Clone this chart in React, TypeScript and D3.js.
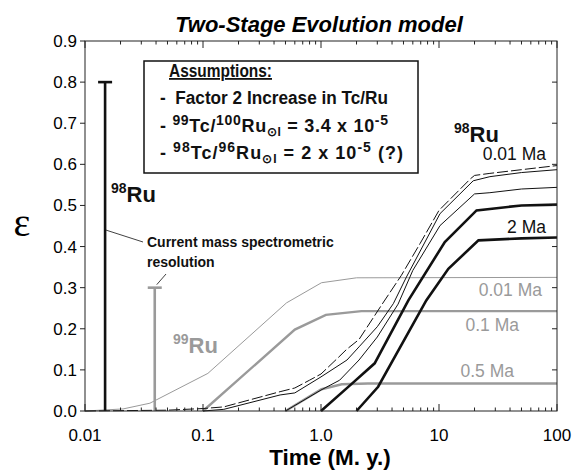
import * as d3 from 'd3';
import React from 'react';

// time axis (M. y.) and epsilon values
const ru98A_t = [0.01, 0.05, 0.1, 0.15, 0.45, 0.6, 0.8, 1.0, 1.4, 1.65, 2.1, 3.3, 4.8, 6.9, 10, 18.5, 20, 27, 50, 100];
const ru98A_v = [0, 0.002, 0.006, 0.01, 0.047, 0.056, 0.075, 0.09, 0.13, 0.15, 0.174, 0.26, 0.33, 0.407, 0.488, 0.565, 0.573, 0.578, 0.587, 0.597];

const ru98B_t = [0.1, 0.15, 0.45, 0.6, 1.0, 1.66, 2.1, 3.0, 4.1, 5.3, 10.2, 19.5, 27, 50, 100];
const ru98B_v = [0, 0.004, 0.039, 0.044, 0.083, 0.124, 0.156, 0.205, 0.261, 0.326, 0.48, 0.56, 0.57, 0.58, 0.587];

const ru98C_t = [0.5, 1.0, 1.44, 2.1, 3.0, 4.5, 6, 10.2, 20, 27, 50, 100];
const ru98C_v = [0, 0.051, 0.075, 0.124, 0.18, 0.26, 0.342, 0.451, 0.528, 0.531, 0.54, 0.544];

const ru98D_t = [1.0, 1.77, 2.85, 5.5, 11.2, 20.8, 50, 100];
const ru98D_v = [0, 0.063, 0.116, 0.269, 0.411, 0.488, 0.5, 0.502];

const ru98E_t = [2.0, 3.05, 7.8, 12, 21.6, 50, 100];
const ru98E_v = [0, 0.059, 0.269, 0.346, 0.415, 0.42, 0.422];

const ru99A_t = [0.01, 0.021, 0.0355, 0.11, 0.51, 1.01, 2.0, 100];
const ru99A_v = [0, 0.005, 0.019, 0.0915, 0.263, 0.312, 0.324, 0.325];

const ru99B_t = [0.1, 0.6, 1.1, 2.2, 100];
const ru99B_v = [0, 0.198, 0.234, 0.243, 0.243];

const ru99C_t = [0.5, 1.01, 1.5, 2.5, 100];
const ru99C_v = [0, 0.053, 0.065, 0.067, 0.067];

// resolution bars: position in time, height in epsilon
const resBarT = [0.0148, 0.039];
const resBarV = [0.8, 0.3];

const yTicks = [0, 0.1, 0.2, 0.3, 0.4, 0.5, 0.6, 0.7, 0.8, 0.9];
const xTickLabels = ['0.01', '0.1', '1.0', '10', '100'];

const GRAY = '#9a9a9a';
const FONT = '"Liberation Sans", Arial, Helvetica, sans-serif';

const zip = (t: number[], v: number[]) => t.map((d, i) => [d, v[i]] as [number, number]);

const Iso = ({ x, y, mass, fill }: { x: number; y: number; mass: string; fill: string }) => (
  <text x={x} y={y} fontWeight="bold" fontSize={22} fill={fill}>
    <tspan fontSize={14} dy={-9}>{mass}</tspan>
    <tspan dy={9}>Ru</tspan>
  </text>
);

const App = () => {
  const width = 573;
  const height = 470;
  const x = d3.scaleLog().domain([0.01, 100]).range([85, 557]);
  const y = d3.scaleLinear().domain([0, 0.9]).range([411, 41]);
  const line = d3
    .line<[number, number]>()
    .x((d) => x(d[0]))
    .y((d) => y(d[1]));

  const [x0, x1] = x.range();
  const [y0, y1] = y.range();
  const allTicks = x.ticks();
  const decades = allTicks.filter((d) => Math.abs(Math.log10(d) - Math.round(Math.log10(d))) < 1e-9);

  const blackSeries = [
    { d: zip(ru98A_t, ru98A_v), w: 1, dash: '11,3' },
    { d: zip(ru98B_t, ru98B_v), w: 1, dash: null },
    { d: zip(ru98C_t, ru98C_v), w: 1, dash: null },
    { d: zip(ru98D_t, ru98D_v), w: 2.6, dash: null },
    { d: zip(ru98E_t, ru98E_v), w: 2.6, dash: null },
  ];
  const graySeries = [
    { d: zip(ru99A_t, ru99A_v), w: 1 },
    { d: zip(ru99B_t, ru99B_v), w: 2.4 },
    { d: zip(ru99C_t, ru99C_v), w: 2.4 },
  ];

  return (
    <svg
      width={width}
      height={height}
      style={{ position: 'absolute', left: 0, top: 0, background: 'white' }}
      fontFamily={FONT}
    >
      <text x={319} y={32} textAnchor="middle" fontSize={22} fontWeight="bold" fontStyle="italic">
        Two-Stage Evolution model
      </text>

      {/* gray 99Ru curves under the black ones */}
      {graySeries.map((s, i) => (
        <path key={'g' + i} d={line(s.d) || ''} fill="none" stroke={GRAY} strokeWidth={s.w} />
      ))}
      {blackSeries.map((s, i) => (
        <path
          key={'b' + i}
          d={line(s.d) || ''}
          fill="none"
          stroke="#111"
          strokeWidth={s.w}
          strokeDasharray={s.dash || undefined}
        />
      ))}

      {/* resolution bars */}
      {resBarT.map((t, i) => (
        <g key={'r' + i} stroke={i === 0 ? '#111' : GRAY} strokeWidth={2.6}>
          <line x1={x(t)} x2={x(t)} y1={y(0)} y2={y(resBarV[i])} />
          <line x1={x(t) - 7} x2={x(t) + 7} y1={y(resBarV[i])} y2={y(resBarV[i])} />
        </g>
      ))}

      {/* frame */}
      <rect x={x0} y={y1} width={x1 - x0} height={y0 - y1} fill="none" stroke="#222" strokeWidth={1} />

      {/* y ticks */}
      {yTicks.map((v) => (
        <g key={'y' + v}>
          <line x1={x0 - 5} x2={x0} y1={y(v)} y2={y(v)} stroke="#222" />
          {v > 0 && v < 0.9 && <line x1={x1 - 5} x2={x1} y1={y(v)} y2={y(v)} stroke="#222" />}
          <text x={x0 - 8} y={y(v) + 6} textAnchor="end" fontSize={17}>
            {v.toFixed(1)}
          </text>
        </g>
      ))}

      {/* x ticks, inward on bottom and top */}
      {allTicks.map((t, i) => {
        const major = decades.includes(t);
        const len = major ? 7 : 3.5;
        return (
          <g key={'x' + i} stroke="#222">
            <line x1={x(t)} x2={x(t)} y1={y0} y2={y0 - len} />
            <line x1={x(t)} x2={x(t)} y1={y1} y2={y1 + len} />
          </g>
        );
      })}
      {decades.map((t, i) => (
        <text key={'xl' + i} x={x(t)} y={441} textAnchor="middle" fontSize={17}>
          {xTickLabels[i]}
        </text>
      ))}

      <text x={330} y={465} textAnchor="middle" fontSize={22.5} fontWeight="bold">
        Time (M. y.)
      </text>
      <text x={22} y={236} textAnchor="middle" fontSize={40} fontFamily='"Liberation Serif", "DejaVu Serif", serif'>
        ε
      </text>

      {/* assumptions box */}
      <rect x={144} y={61} width={274} height={112} fill="white" stroke="#111" strokeWidth={1.5} />
      <g fontWeight="bold" fontSize={18} fill="#111">
        <text x={169} y={77} textDecoration="underline" textLength={103} lengthAdjust="spacingAndGlyphs">
          Assumptions:
        </text>
        <text x={160} y={104} xmlSpace="preserve" textLength={228} lengthAdjust="spacingAndGlyphs">
          -  Factor 2 Increase in Tc/Ru
        </text>
        <text x={160} y={132} textLength={228} lengthAdjust="spacing">
          <tspan>- </tspan>
          <tspan fontSize={14} dy={-7}>99</tspan>
          <tspan dy={7}>Tc/</tspan>
          <tspan fontSize={14} dy={-7}>100</tspan>
          <tspan dy={7}>Ru</tspan>
          <tspan fontSize={12} dy={4}>⊙I</tspan>
          <tspan dy={-4}> = 3.4 x 10</tspan>
          <tspan fontSize={14} dy={-7}>-5</tspan>
        </text>
        <text x={160} y={159} textLength={243} lengthAdjust="spacing">
          <tspan>- </tspan>
          <tspan fontSize={14} dy={-7}>98</tspan>
          <tspan dy={7}>Tc/</tspan>
          <tspan fontSize={14} dy={-7}>96</tspan>
          <tspan dy={7}>Ru</tspan>
          <tspan fontSize={12} dy={4}>⊙I</tspan>
          <tspan dy={-4}> = 2 x 10</tspan>
          <tspan fontSize={14} dy={-7}>-5</tspan>
          <tspan dy={7}> (?)</tspan>
        </text>
      </g>

      {/* isotope labels */}
      <Iso x={111} y={202} mass="98" fill="#111" />
      <Iso x={173} y={353} mass="99" fill={GRAY} />
      <Iso x={454} y={142} mass="98" fill="#111" />

      {/* curve labels */}
      <g fontSize={17.5} textAnchor="end">
        <text x={546} y={160} fill="#111">0.01 Ma</text>
        <text x={546} y={233} fill="#111">2 Ma</text>
        <text x={542} y={296} fill={GRAY}>0.01 Ma</text>
        <text x={519} y={331} fill={GRAY}>0.1 Ma</text>
        <text x={514} y={377} fill={GRAY}>0.5 Ma</text>
      </g>

      {/* resolution annotation */}
      <line x1={x(resBarT[0]) + 1} y1={y(0.44)} x2={143} y2={242} stroke="#111" strokeWidth={0.8} />
      <line x1={x(resBarT[1]) + 2} y1={y(0.3) - 3} x2={166} y2={274} stroke="#111" strokeWidth={0.8} />
      <g fontWeight="bold" fontSize={14} fill="#111">
        <text x={147} y={247}>Current mass spectrometric</text>
        <text x={147} y={267}>resolution</text>
      </g>
    </svg>
  );
};

export default App;
